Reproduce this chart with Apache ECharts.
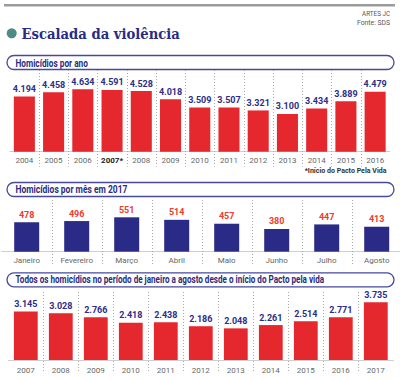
<!DOCTYPE html>
<html><head><meta charset="utf-8">
<script src="https://cdn.jsdelivr.net/npm/echarts@6/dist/echarts.min.js"></script>
<style>html,body{margin:0;padding:0;background:#fff}#c{width:400px;height:380px}</style>
</head><body><div id="c"></div>
<script>
// ---- data ----
const years1 = ['2004','2005','2006','2007*','2008','2009','2010','2011','2012','2013','2014','2015','2016'];
const values1 = [4194,4458,4634,4591,4528,4018,3509,3507,3321,3100,3434,3889,4479];
const months2 = ['Janeiro','Fevereiro','Março','Abril','Maio','Junho','Julho','Agosto'];
const values2 = [478,496,551,514,457,380,447,413];
const years3 = ['2007','2008','2009','2010','2011','2012','2013','2014','2015','2016','2017'];
const values3 = [3145,3028,2766,2418,2438,2186,2048,2261,2514,2771,3735];

const titleText = 'Escalada da violência';
const header1 = 'Homicídios por ano';
const header2 = 'Homicídios por mês em 2017';
const header3 = 'Todos os homicídios no período de janeiro a agosto desde o início do Pacto pela vida';
const noteText = '*Início do Pacto Pela Vida';

// ---- helpers ----
const RED = '#e5272e', NAVY = '#2a2b86', NAVYTXT = '#2c2d88', REDTXT = '#ef3b2c';
const cv = document.createElement('canvas').getContext('2d');
function measure(font, text){ cv.font = font; return cv.measureText(text).width; }
function fitText(text, x, y, size, weight, family, fill, target, align){
  const w = measure(weight + ' ' + size + 'px ' + family, text);
  return {type:'text', x:x, y:y, scaleX: target / w, silent:true,
    style:{text:text, fontSize:size, fontWeight:weight, fontFamily:family, fill:fill,
      align: align || 'left', verticalAlign:'middle'}};
}
function fmt(v){ v = Math.round(v); return v >= 1000 ? Math.floor(v/1000) + '.' + String(v%1000).padStart(3,'0') : String(v); }
function sepSeries(idx, n, ext){
  const d = []; for (let i = 1; i < n; i++) d.push([i, 0]);
  return {type:'custom', xAxisIndex:idx, yAxisIndex:idx, data:d, silent:true, clip:false, z:1,
    renderItem:function(params, api){
      const cs = params.coordSys;
      const x = Math.round(api.coord([api.value(0), 0])[0] - api.size([1,0])[0]/2) + 0.5;
      return {type:'line', shape:{x1:x, y1:cs.y, x2:x, y2:cs.y + cs.height + ext},
        style:{stroke:'#a8a8a8', lineDash:[1,2], lineWidth:1}};
    }};
}
function xAx(idx, data, margin){
  return {type:'category', gridIndex:idx, data:data,
    axisLine:{show:true, lineStyle:{color:'#cfcfcf', width:1}},
    axisTick:{show:false}, splitLine:{show:false},
    axisLabel:{interval:0, margin:margin, fontSize:8, color:'#666',
      fontFamily:"Roboto, sans-serif",
      formatter:function(v){ return v.indexOf('*') >= 0 ? '{b|' + v + '}' : v; },
      rich:{b:{fontSize:8, fontWeight:'bold', color:'#222', fontFamily:"Roboto, sans-serif"}}}};
}
function yAx(idx, min, max){
  return {type:'value', gridIndex:idx, min:min, max:max, show:false, splitLine:{show:false}};
}
function barS(idx, vals, color, lblColor, width){
  return {type:'bar', xAxisIndex:idx, yAxisIndex:idx, data:vals, barWidth:width, z:2,
    itemStyle:{color:color},
    label:{show:true, position:'top', distance:3, fontSize:9, fontWeight:'bold',
      fontFamily:'Roboto, sans-serif', color:lblColor,
      formatter:function(p){ return fmt(p.value); }}};
}
function headerBox(y){
  return {type:'rect', silent:true, shape:{x:7, y:y, width:387, height:14, r:7},
    style:{fill:'#fff', stroke:'#47499a', lineWidth:1.3}};
}

const chart = echarts.init(document.getElementById('c'), null, {renderer:'svg', width:400, height:380});
chart.setOption({
  animation:false,
  backgroundColor:'#fff',
  grid:[
    {left:9.75, width:380, top:70, height:81.7, containLabel:false, outerBoundsMode:'none'},
    {left:1.7, width:400, top:200, height:51.7, containLabel:false, outerBoundsMode:'none'},
    {left:8.3, width:385, top:292, height:68, containLabel:false, outerBoundsMode:'none'}
  ],
  xAxis:[xAx(0, years1, 5), xAx(1, months2, 4.5), xAx(2, years3, 6)],
  yAxis:[yAx(0, 758, 5833), yAx(1, 48, 804), yAx(2, 0, 4401)],
  series:[
    sepSeries(0, years1.length, 15),
    sepSeries(1, months2.length, 14),
    sepSeries(2, years3.length, 12),
    barS(0, values1, RED, NAVYTXT, '72%'),
    barS(1, values2, NAVY, REDTXT, '50%'),
    barS(2, values3, RED, NAVYTXT, '68%')
  ],
  graphic:[
    {type:'rect', silent:true, shape:{x:4, y:4, width:391, height:2.5}, style:{fill:'#9b9b9b'}},
    {type:'circle', silent:true, shape:{cx:11.7, cy:33.3, r:5}, style:{fill:'#4f8b84'}},
    fitText(titleText, 21.5, 33.5, 15, 'bold', "'DejaVu Serif', serif", '#2a2b85', 158.5, 'left'),
    fitText('ARTES JC', 390, 13.5, 7.5, 'normal', 'Roboto, sans-serif', '#555', 28, 'right'),
    fitText('Fonte: SDS', 390, 22, 7.5, 'normal', 'Roboto, sans-serif', '#555', 33, 'right'),
    headerBox(55.5), headerBox(182.5), headerBox(272.8),
    fitText(header1, 15.5, 62.8, 10, 'bold', 'Roboto, sans-serif', '#2b2d80', 72.5, 'left'),
    fitText(header2, 15.5, 189.3, 10, 'bold', 'Roboto, sans-serif', '#2b2d80', 112, 'left'),
    fitText(header3, 15.5, 280, 10, 'bold', 'Roboto, sans-serif', '#2b2d80', 309, 'left'),
    fitText(noteText, 386.5, 170.5, 7.5, 'bold', 'Roboto, sans-serif', '#333', 82, 'right')
  ]
});
</script></body></html>
